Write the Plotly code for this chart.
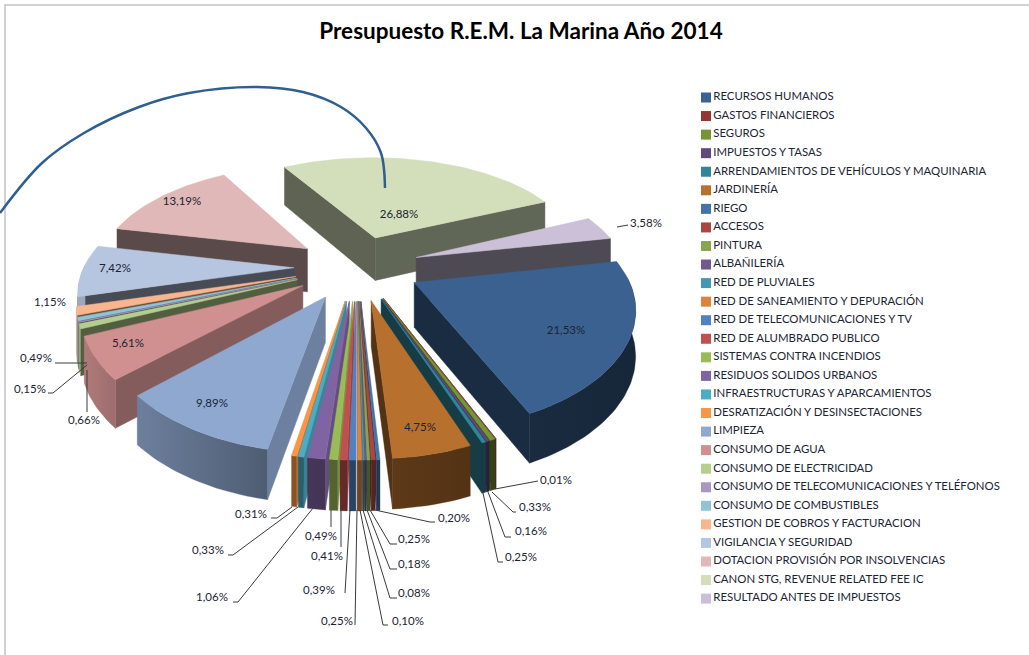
import numpy as np
import plotly.graph_objects as go

categories = ["RECURSOS HUMANOS", "GASTOS FINANCIEROS", "SEGUROS", "IMPUESTOS Y TASAS",
    "ARRENDAMIENTOS DE VEHÍCULOS Y MAQUINARIA", "JARDINERÍA", "RIEGO", "ACCESOS", "PINTURA",
    "ALBAÑILERÍA", "RED DE PLUVIALES", "RED DE SANEAMIENTO Y DEPURACIÓN",
    "RED DE TELECOMUNICACIONES Y TV", "RED DE ALUMBRADO PUBLICO", "SISTEMAS CONTRA INCENDIOS",
    "RESIDUOS SOLIDOS URBANOS", "INFRAESTRUCTURAS Y APARCAMIENTOS",
    "DESRATIZACIÓN Y DESINSECTACIONES", "LIMPIEZA", "CONSUMO DE AGUA", "CONSUMO DE ELECTRICIDAD",
    "CONSUMO DE TELECOMUNICACIONES Y TELÉFONOS", "CONSUMO DE COMBUSTIBLES",
    "GESTION DE COBROS Y FACTURACION", "VIGILANCIA Y SEGURIDAD",
    "DOTACION PROVISIÓN POR INSOLVENCIAS", "CANON STG, REVENUE RELATED FEE IC",
    "RESULTADO ANTES DE IMPUESTOS"]
values = [21.53, 0.01, 0.33, 0.16, 0.25, 4.75, 0.20, 0.25, 0.18, 0.08, 0.10, 0.25, 0.39, 0.41,
          0.49, 1.06, 0.33, 0.31, 9.89, 5.61, 0.66, 0.15, 0.49, 1.15, 7.42, 13.19, 26.88, 3.58]
colors = ["#3A6190", "#943634", "#769535", "#5F4A7C", "#31859B", "#B8702E", "#4572A7", "#AA4643",
          "#89A54E", "#71588F", "#4198AF", "#DB843D", "#4F81C4", "#C0504D", "#9BBB59", "#8064A2",
          "#4BACC6", "#F79646", "#8FA8D0", "#D09090", "#B5CE8E", "#A897C0", "#8FC4D5", "#F9B68E",
          "#B7C6E0", "#E0B8B8", "#D3DFBA", "#CBC0D8"]

# label centre and leader path, in page pixels, by category index
label_xy = {0: (566, 331), 1: (556, 481), 2: (535, 508), 3: (531, 532), 4: (521, 558), 5: (420, 428),
            6: (454, 519), 7: (414, 540), 8: (414, 565), 9: (414, 594), 10: (408, 622), 11: (337, 622),
            12: (319, 591), 13: (327, 557), 14: (321, 537), 15: (212, 598), 16: (208, 551),
            17: (251, 515), 18: (212, 404), 19: (128, 344), 20: (84, 421), 21: (30, 390), 22: (36, 359),
            23: (50, 303), 24: (115, 269), 25: (182, 202), 26: (399, 215), 27: (646, 224)}
leaders = {1: [(538, 481), (495, 489)], 2: [(516, 512), (513, 512), (492, 492)],
           3: [(511, 537), (505, 537), (488, 492)], 4: [(503, 562), (498, 562), (483, 493)],
           6: [(435, 522), (430, 522), (375, 510)], 7: [(397, 544), (390, 544), (370, 510)],
           8: [(397, 569), (390, 569), (367, 510)], 9: [(397, 598), (390, 598), (363, 510)],
           10: [(388, 625), (383, 625), (360, 510)], 11: [(355, 625), (357, 510)],
           12: [(345, 593), (350, 510)], 13: [(341, 547), (341, 510)], 14: [(331, 527), (331, 510)],
           15: [(233, 602), (238, 602), (313, 508)], 16: [(228, 555), (233, 555), (298, 507)],
           17: [(271, 518), (277, 518), (292, 507)], 20: [(87, 412), (87, 370)],
           21: [(48, 393), (53, 393), (87, 365)], 22: [(55, 363), (87, 363)],
           27: [(628, 225), (617, 227)]}
arc_x = [0, 42, 84, 139, 189, 257, 303, 341, 366, 381, 385]
arc_y = [213, 163, 133, 107, 93, 87, 92, 107, 128, 153, 188]

# projection of the tilted pie
CX, CY, RX, RY, KX, KY = 357, 267, 210, 108, 0.18, 0.21
EXPLODE, DEPTH, START = 0.30, 44, 79.0
FONT = "Lato"


def project(X, Y):
    X, Y = np.asarray(X, float), np.asarray(Y, float)
    return CX + RX * X / (1 - KX * Y), CY + RY * Y / (1 - KY * Y)


def shade(hex_color, f):
    r, g, b = (int(hex_color[i:i + 2], 16) for i in (1, 3, 5))
    return f"rgb({r * f:.0f},{g * f:.0f},{b * f:.0f})"


def radial_factor(phi):
    return float(np.interp(phi % 360, [90, 135, 165, 245, 270], [0.8, 0.65, 0.38, 0.45, 0.45]))


def outer_factor(phi):
    return float(np.interp(phi % 360, [90, 150, 190, 225, 245, 270], [0.4, 0.42, 0.55, 0.75, 0.85, 0.85]))


fig = go.Figure()
total = sum(values)
cum = np.concatenate([[0], np.cumsum(values)]) / total * 360 + START
order = sorted(range(len(values)),
               key=lambda i: -np.cos(np.radians((cum[i] + cum[i + 1]) / 2)))


def poly(xs, ys, color, group, **kw):
    fig.add_trace(go.Scatter(x=list(xs), y=list(ys), mode="lines", fill="toself", fillcolor=color,
                             line=dict(color=color, width=0.5), legendgroup=group, showlegend=False,
                             hoverinfo="skip", **kw))


for i in order:
    a0, a1 = cum[i], cum[i + 1]
    b = np.radians((a0 + a1) / 2)
    ox, oy = EXPLODE * np.sin(b), -EXPLODE * np.cos(b)
    t = np.radians(np.linspace(a0, a1, max(4, int((a1 - a0) / 1.5) + 2)))
    X = ox + np.sin(t)
    Y = oy - np.cos(t)
    ax, ay = project(ox, oy)
    sx, sy = project(X, Y)
    d = DEPTH * (1 + 0.12 * Y)
    d0 = DEPTH * (1 + 0.12 * oy)
    name = categories[i]
    # radial walls turned towards the viewer
    for edge, ang, phi in ((0, a0, a0 - 90), (-1, a1, a1 + 90)):
        if -np.cos(np.radians(phi)) > -0.02:
            ex, ey, ed = sx[edge], sy[edge], d[edge]
            poly([ax, ex, ex, ax, ax], [ay, ey, ey + ed, ay + d0, ay],
                 shade(colors[i], radial_factor(phi)), name)
    # outer wall: only the part on the near half
    mask = np.cos(t) < 0.05
    if mask.sum() >= 2:
        wx = sx[mask]
        wy = sy[mask]
        wd = d[mask]
        deg = np.degrees(t[mask])
        c0 = shade(colors[i], outer_factor(deg[0]))
        c1 = shade(colors[i], outer_factor(deg[-1]))
        xs = np.concatenate([wx, wx[::-1], wx[:1]])
        ys = np.concatenate([wy, (wy + wd)[::-1], wy[:1]])
        lo, hi = (c0, c1) if wx[0] < wx[-1] else (c1, c0)
        fig.add_trace(go.Scatter(x=list(xs), y=list(ys), mode="lines", fill="toself",
                                 fillgradient=dict(type="horizontal", colorscale=[[0, lo], [1, hi]]),
                                 line=dict(color=lo, width=0.3), legendgroup=name, showlegend=False,
                                 hoverinfo="skip"))
    # top face
    poly(np.r_[ax, sx, ax], np.r_[ay, sy, ay], colors[i], name)

# legend column, one swatch and real text per category
LEG_X, LEG_Y0, LEG_STEP = 706, 97.5, 18.56
for k, (name, color) in enumerate(zip(categories, colors)):
    fig.add_trace(go.Scatter(x=[LEG_X], y=[LEG_Y0 + k * LEG_STEP], mode="markers+text", text=[name],
                             textposition="middle right", name=name, legendgroup=name,
                             textfont=dict(family=FONT, size=11.4, color="#1c2433"),
                             marker=dict(symbol="square", size=10, color=color),
                             showlegend=False, hoverinfo="name"))

# leader lines
for i, path in leaders.items():
    fig.add_trace(go.Scatter(x=[p[0] for p in path], y=[p[1] for p in path], mode="lines",
                             line=dict(color="#3a3a3a", width=1), showlegend=False, hoverinfo="skip"))

# the blue arrow arc
fig.add_trace(go.Scatter(x=arc_x, y=arc_y, mode="lines", showlegend=False, hoverinfo="skip",
                         line=dict(color="#2F5F8F", width=2.5, shape="spline")))

# percentage labels
fig.add_trace(go.Scatter(x=[label_xy[i][0] for i in range(len(values))],
                         y=[label_xy[i][1] for i in range(len(values))],
                         text=[f"{v:.2f}%".replace(".", ",") for v in values], mode="text",
                         textfont=dict(family=FONT, size=11.5, color="#1c2433"),
                         showlegend=False, hoverinfo="skip"))

fig.update_layout(
    width=1029, height=655, margin=dict(l=0, r=0, t=0, b=0),
    paper_bgcolor="white", plot_bgcolor="white", showlegend=False,
    title=dict(text="<b>Presupuesto R.E.M. La Marina Año 2014</b>", x=521 / 1029, xanchor="center",
               y=1 - 31 / 655, yanchor="middle", font=dict(family=FONT, size=22.5, color="black")),
    xaxis=dict(range=[0, 1029], visible=False, fixedrange=True),
    yaxis=dict(range=[655, 0], visible=False, fixedrange=True),
    shapes=[dict(type="rect", xref="x", yref="y", x0=5, y0=5, x1=1100, y1=800,
                 line=dict(color="#C4C4C4", width=1.5), layer="below")],
)
fig.write_html("out.html", config={"displayModeBar": False},
               post_script="document.body.style.margin='0';document.body.style.overflow='hidden';")
